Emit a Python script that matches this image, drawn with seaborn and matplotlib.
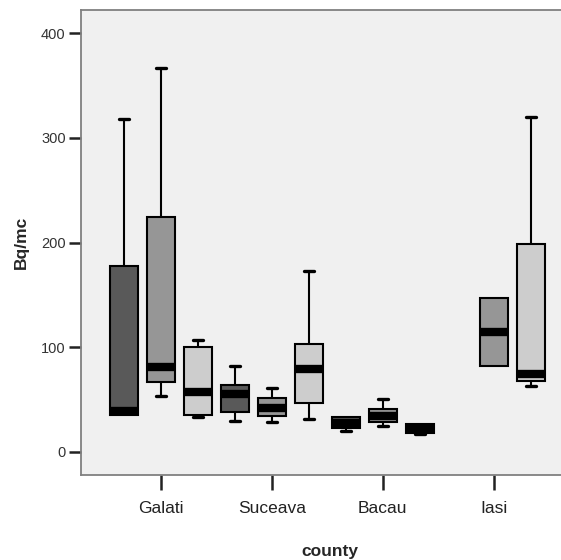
import numpy as np
import pandas as pd
import matplotlib
matplotlib.use("Agg")
import matplotlib.pyplot as plt
import seaborn as sns

# Five-number summaries (min, q1, median, q3, max) of radon concentration, Bq/mc
counties = ["Galati", "Suceava", "Bacau", "Iasi"]
levels = ["1", "2", "3"]
galati = {"1": [35, 35, 39, 178, 318], "2": [53, 67, 81, 224, 367], "3": [33, 35, 57, 100, 107]}
suceava = {"1": [30, 38, 55, 64, 82], "2": [29, 34, 42, 52, 61], "3": [31, 47, 79, 103, 173]}
bacau = {"1": [20, 23, 28, 33, 33], "2": [25, 29, 34, 41, 51], "3": [17, 18, 22, 27, 27]}
iasi = {"2": [82, 82, 115, 147, 147], "3": [63, 68, 74, 199, 320]}
y_ticks = [0, 100, 200, 300, 400]
fills = ["#595959", "#969696", "#cdcdcd"]

rows = []
for county, groups in zip(counties, [galati, suceava, bacau, iasi]):
    for level, vals in groups.items():
        for v in vals:
            rows.append({"county": county, "level": level, "Bq/mc": v})
df = pd.DataFrame(rows)

sns.set_style("white")
plt.rcParams["font.family"] = ["Liberation Sans", "DejaVu Sans"]

fig = plt.figure(figsize=(5.61, 5.60), dpi=100)
ax = fig.add_axes([81 / 561, (560 - 475) / 560, (578 - 81) / 561, 465 / 560])
ax.set_facecolor("#f0f0f0")

sns.boxplot(
    data=df, x="county", y="Bq/mc", hue="level",
    order=counties, hue_order=levels,
    palette=dict(zip(levels, fills)), saturation=1,
    width=1.0, gap=0.24, whis=(0, 100),
    linecolor="black", linewidth=1.5,
    medianprops={"linewidth": 6, "color": "black", "solid_capstyle": "butt"},
    capprops={"linewidth": 2.4},
    capwidths=0.09,
    legend=False, ax=ax,
)

# hide caps that sit on a zero-length whisker (min == q1 or max == q3)
flat_ends = set()
for ln in ax.lines:
    xs, ys = np.asarray(ln.get_xdata(), float), np.asarray(ln.get_ydata(), float)
    if len(xs) == 2 and np.isclose(xs[0], xs[1]) and np.isclose(ys[0], ys[1]):
        flat_ends.add((round(xs[0], 3), round(ys[0], 3)))
for ln in ax.lines:
    xs, ys = np.asarray(ln.get_xdata(), float), np.asarray(ln.get_ydata(), float)
    if len(xs) == 2 and np.isclose(ys[0], ys[1]) and abs(xs[1] - xs[0]) < 0.12:
        if (round(xs.mean(), 3), round(ys[0], 3)) in flat_ends:
            ln.set_visible(False)

ax.set_xlim(-0.72, 3.76)
ax.set_ylim(-22, 422)
ax.set_yticks(y_ticks)
ax.set_xticks(range(len(counties)))
ax.set_xticklabels(counties)

ax.tick_params(axis="x", direction="out", length=11, width=1.8, color="#222222",
               labelsize=12.5, labelcolor="#222222", pad=8, bottom=True)
ax.tick_params(axis="y", direction="out", length=9, width=1.8, color="#222222",
               labelsize=10.5, labelcolor="#333333", pad=2, left=True)

for side, sp in ax.spines.items():
    sp.set_color("#808080")
    sp.set_linewidth(1.3)
ax.spines["right"].set_visible(False)

ax.set_xlabel("county", fontsize=12.5, fontweight="bold", labelpad=20)
ax.set_ylabel("Bq/mc", fontsize=12.5, fontweight="bold", labelpad=9)

fig.savefig("out.png", dpi=100)
